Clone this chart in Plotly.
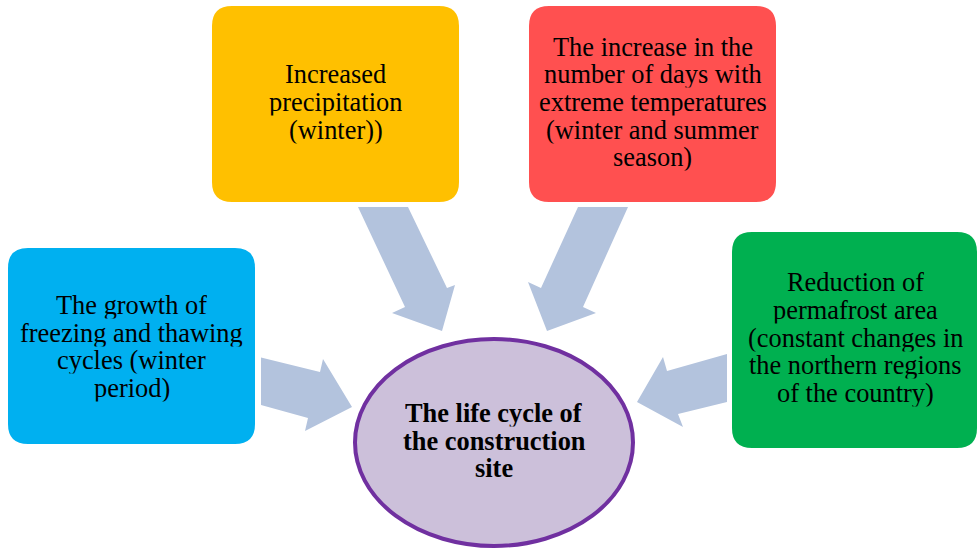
import plotly.graph_objects as go

W, H = 978, 551

# Factor boxes: label lines, fill colours and placement (left, top, right, bottom)
factor_lines = [
    ["The growth of", "freezing and thawing", "cycles (winter", "period)"],
    ["Increased", "precipitation", "(winter))"],
    ["The increase in the", "number of days with", "extreme temperatures",
     "(winter and summer", "season)"],
    ["Reduction of", "permafrost area", "(constant changes in",
     "the northern regions", "of the country)"],
]
factor_colors = ["#00B0F0", "#FFC000", "#FF5050", "#00B050"]
factor_boxes = [
    (8, 248, 255, 444),
    (212, 6, 459, 202),
    (529, 6, 776, 202),
    (732, 232, 977, 448),
]
factor_text_centers = [(131.5, 347), (335.5, 102.5), (652.5, 102.5), (855, 338)]

# Central element
center_lines = ["The life cycle of", "the construction", "site"]
center_ellipse = (355, 339, 633, 546)
center_text = (494, 441)

# Block arrows pointing from each factor to the centre
arrow_outlines = [
    [(261, 357.5), (320, 372), (323, 359), (352, 407), (305, 431), (308, 418), (261, 405)],
    [(358, 207), (408, 207), (447, 288), (455, 285), (442, 331), (392, 313), (405, 307)],
    [(578, 207), (628, 207), (583, 307), (596, 313), (547, 331), (528, 282), (541, 288)],
    [(727, 354), (727, 402), (678, 414), (683, 427), (637, 402), (663, 357), (667, 371)],
]
arrow_color = "#B3C3DD"

FONT = "Liberation Serif, Times New Roman, serif"
FONT_SIZE = 26.4
LINE_STEP = 27.6


def rounded_rect(x0, y0, x1, y1, r):
    return (f"M {x0 + r},{y0} L {x1 - r},{y0} Q {x1},{y0} {x1},{y0 + r} "
            f"L {x1},{y1 - r} Q {x1},{y1} {x1 - r},{y1} "
            f"L {x0 + r},{y1} Q {x0},{y1} {x0},{y1 - r} "
            f"L {x0},{y0 + r} Q {x0},{y0} {x0 + r},{y0} Z")


def polygon(points):
    return "M " + " L ".join(f"{x},{y}" for x, y in points) + " Z"


shapes = []
annotations = []


def add_lines(lines, cx, cy, bold=False):
    n = len(lines)
    for i, line in enumerate(lines):
        y = cy + (i - (n - 1) / 2) * LINE_STEP
        annotations.append(dict(
            x=cx, y=y, xref="x", yref="y", showarrow=False,
            text=f"<b>{line}</b>" if bold else line,
            xanchor="center", yanchor="middle", valign="middle",
            height=LINE_STEP - 1, borderpad=0,
            font=dict(family=FONT, size=FONT_SIZE, color="black"),
        ))


for (x0, y0, x1, y1), color, lines, (cx, cy) in zip(
        factor_boxes, factor_colors, factor_lines, factor_text_centers):
    shapes.append(dict(type="path", path=rounded_rect(x0, y0, x1, y1, 20),
                       xref="x", yref="y", fillcolor=color, line=dict(width=0),
                       layer="below"))
    add_lines(lines, cx, cy)

for pts in arrow_outlines:
    shapes.append(dict(type="path", path=polygon(pts), xref="x", yref="y",
                       fillcolor=arrow_color, line=dict(width=0), layer="below"))

ex0, ey0, ex1, ey1 = center_ellipse
shapes.append(dict(type="circle", x0=ex0, y0=ey0, x1=ex1, y1=ey1,
                   xref="x", yref="y", fillcolor="#CCC0DA",
                   line=dict(color="#7030A0", width=4), layer="below"))
add_lines(center_lines, *center_text, bold=True)

fig = go.Figure()
fig.update_layout(
    width=W, height=H,
    margin=dict(l=0, r=0, t=0, b=0),
    paper_bgcolor="white", plot_bgcolor="white",
    xaxis=dict(range=[0, W], visible=False, fixedrange=True),
    yaxis=dict(range=[H, 0], visible=False, fixedrange=True),
    shapes=shapes, annotations=annotations,
    showlegend=False,
)

fig.write_html("out.html", config={"displayModeBar": False})
